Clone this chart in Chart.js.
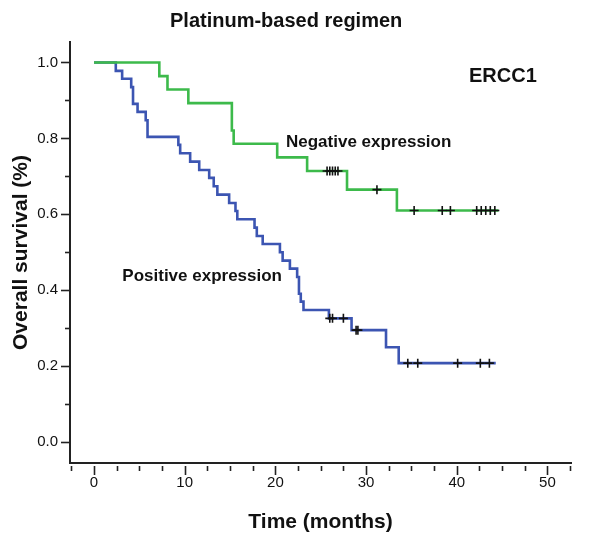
<!DOCTYPE html>
<html><head><meta charset="utf-8">
<script src="https://cdn.jsdelivr.net/npm/chart.js@4/dist/chart.umd.min.js"></script>
<style>html,body{margin:0;padding:0;background:#fff}#wrap{width:600px;height:543px;position:relative}</style>
</head><body><div id="wrap"><canvas id="c" width="600" height="543"></canvas></div>
<script>
// Negative expression (green)
const negTimes = [0, 7.2, 8.1, 10.4, 15.2, 15.4, 20.2, 23.5, 27.9, 33.4, 44.6];
const negSurv  = [1.0, 0.964, 0.929, 0.893, 0.821, 0.786, 0.750, 0.714, 0.665, 0.610, 0.610];
const negCensor = [25.7, 26.0, 26.3, 26.6, 26.9, 31.2, 35.3, 38.4, 39.3, 42.2, 42.7, 43.2, 43.7, 44.2];
// Positive expression (blue)
const posTimes = [0, 2.4, 3.1, 4.1, 4.3, 4.8, 5.7, 5.9, 9.3, 9.5, 10.6, 11.6, 12.7, 13.2, 13.6, 14.9, 15.6, 15.8, 17.7, 17.95, 18.6, 20.5, 20.8, 21.6, 22.4, 22.6, 22.8, 23.1, 25.9, 28.4, 32.2, 33.6, 44.3];
const posSurv  = [1.0, 0.978, 0.957, 0.935, 0.891, 0.870, 0.848, 0.804, 0.783, 0.761, 0.739, 0.717, 0.696, 0.674, 0.652, 0.630, 0.609, 0.587, 0.565, 0.543, 0.522, 0.500, 0.478, 0.457, 0.435, 0.391, 0.370, 0.348, 0.326, 0.295, 0.250, 0.208, 0.208];
const posCensor = [26.0, 26.3, 27.5, 28.9, 29.1, 34.6, 35.7, 40.1, 42.6, 43.6];
const xTickValues = [0, 10, 20, 30, 40, 50];
const yTickValues = [0, 0.2, 0.4, 0.6, 0.8, 1.0];

const FONT = "'Liberation Sans', Arial, Helvetica, sans-serif";
const GREEN = '#3dba4b';
const BLUE = '#3c55b2';

function survAt(times, surv, t) {
  let s = surv[0];
  for (let i = 0; i < times.length; i++) { if (times[i] <= t) s = surv[i]; }
  return s;
}
const toPts = (ts, ss) => ts.map((t, i) => ({x: t, y: ss[i]}));
const censorPts = (cs, ts, ss) => cs.map(t => ({x: t, y: survAt(ts, ss, t)}));

const decor = {
  id: 'decor',
  afterDraw(chart) {
    const ctx = chart.ctx, xs = chart.scales.x, ys = chart.scales.y, a = chart.chartArea;
    ctx.save();
    ctx.strokeStyle = '#222'; ctx.lineWidth = 1.6;
    for (let i = 0; i <= 10; i++) {
      const y = Math.round(ys.getPixelForValue(i / 10)) + 0.5;
      const len = (i % 2 === 0) ? 8 : 4;
      ctx.beginPath(); ctx.moveTo(a.left - 1, y); ctx.lineTo(a.left - 1 - len, y); ctx.stroke();
    }
    for (let i = -1; i <= 21; i++) {
      const x = Math.round(xs.getPixelForValue(i * 2.5)) + 0.5;
      const len = (i % 4 === 0) ? 9 : 5;
      ctx.beginPath(); ctx.moveTo(x, a.bottom + 3); ctx.lineTo(x, a.bottom + 3 + len); ctx.stroke();
    }
    ctx.fillStyle = '#111';
    ctx.textBaseline = 'alphabetic';
    ctx.font = 'bold 20px ' + FONT; ctx.textAlign = 'left';
    ctx.fillText('Platinum-based regimen', 170, 27);
    ctx.fillText('ERCC1', 469, 82);
    ctx.font = 'bold 17px ' + FONT;
    ctx.fillText('Negative expression', 286, 147);
    ctx.textAlign = 'right';
    ctx.fillText('Positive expression', 282, 281);
    ctx.restore();
  }
};

new Chart(document.getElementById('c'), {
  type: 'scatter',
  data: {
    datasets: [
      { label: 'Negative censored', data: censorPts(negCensor, negTimes, negSurv), showLine: false,
        pointStyle: 'cross', pointRadius: 4.5, borderColor: '#111', borderWidth: 1.6, order: 0 },
      { label: 'Positive censored', data: censorPts(posCensor, posTimes, posSurv), showLine: false,
        pointStyle: 'cross', pointRadius: 4.5, borderColor: '#111', borderWidth: 1.6, order: 0 },
      { label: 'Negative expression', data: toPts(negTimes, negSurv), showLine: true, stepped: 'before',
        borderColor: GREEN, borderWidth: 2.6, pointRadius: 0, fill: false, order: 1 },
      { label: 'Positive expression', data: toPts(posTimes, posSurv), showLine: true, stepped: 'before',
        borderColor: BLUE, borderWidth: 2.6, pointRadius: 0, fill: false, order: 1 }
    ]
  },
  options: {
    responsive: false, animation: false, devicePixelRatio: 1,
    layout: { padding: { top: 42, right: 29, left: 0, bottom: 0 } },
    plugins: { legend: { display: false }, tooltip: { enabled: false }, title: { display: false } },
    scales: {
      x: {
        type: 'linear', min: -2.65, max: 52.6,
        grid: { display: false, drawTicks: false },
        border: { display: true, color: '#222', width: 2 },
        afterBuildTicks: s => { s.ticks = xTickValues.map(v => ({value: v})); },
        afterFit: s => { s.height = 80; },
        ticks: { color: '#111', font: { family: FONT, size: 15 }, padding: 11, maxRotation: 0,
                 callback: v => String(v) },
        title: { display: true, text: 'Time (months)', color: '#111',
                 font: { family: FONT, size: 21, weight: 'bold' }, padding: { top: 0, bottom: 8 } }
      },
      y: {
        type: 'linear', min: -0.055, max: 1.054,
        grid: { display: false, drawTicks: false },
        border: { display: true, color: '#222', width: 2 },
        afterBuildTicks: s => { s.ticks = yTickValues.map(v => ({value: v})); },
        afterFit: s => { s.width = 70; },
        ticks: { color: '#111', font: { family: FONT, size: 15 }, padding: 12,
                 callback: v => Number(v).toFixed(1) },
        title: { display: true, text: 'Overall survival (%)', color: '#111',
                 font: { family: FONT, size: 21, weight: 'bold' }, padding: { top: 9, bottom: 0 } }
      }
    }
  },
  plugins: [decor]
});
</script>
</body></html>
